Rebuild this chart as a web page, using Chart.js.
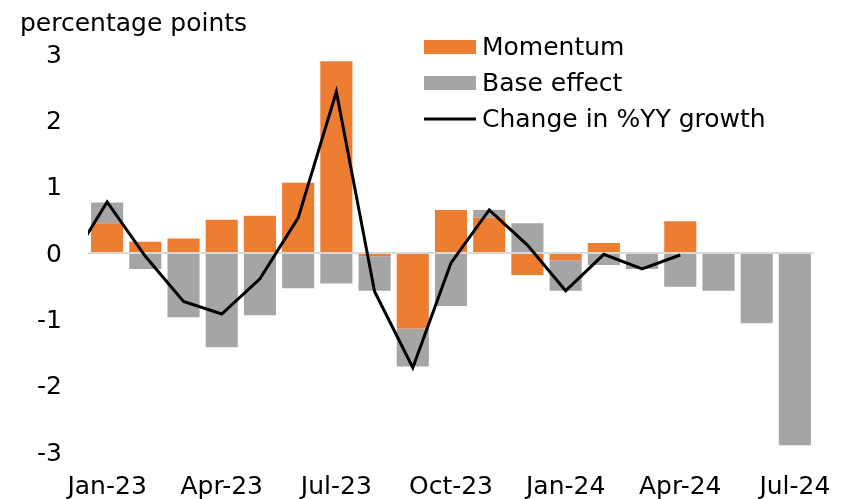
<!DOCTYPE html>
<html lang="en">
<head>
    <meta charset="UTF-8">
    <title>Momentum vs base effect</title>
    <script src="https://cdn.jsdelivr.net/npm/chart.js"></script>
    <style>
        body { margin: 0; background: #fff; }
        #wrap { width: 846px; height: 499px; }
    </style>
</head>
<body>
    <div id="wrap"><canvas id="chart"></canvas></div>
    <script>
        // months shown on the axis
        const months = ['Jan-23', 'Feb-23', 'Mar-23', 'Apr-23', 'May-23', 'Jun-23', 'Jul-23', 'Aug-23', 'Sep-23',
            'Oct-23', 'Nov-23', 'Dec-23', 'Jan-24', 'Feb-24', 'Mar-24', 'Apr-24', 'May-24', 'Jun-24', 'Jul-24'];
        const tickLabels = ['Jan-23', 'Apr-23', 'Jul-23', 'Oct-23', 'Jan-24', 'Apr-24', 'Jul-24'];

        const momentum = [0.45, 0.17, 0.22, 0.50, 0.56, 1.06, 2.89, -0.05, -1.14, 0.65, 0.53, -0.33, -0.11, 0.15, 0, 0.48, null, null, null];
        const baseEffect = [0.31, -0.24, -0.97, -1.42, -0.94, -0.53, -0.46, -0.52, -0.57, -0.80, 0.12, 0.45, -0.46, -0.18, -0.24, -0.51, -0.57, -1.06, -2.90];

        // line starts one month before the first bar (clipped at the plot edge)
        const lineMonths = ['Dec-22', 'Jan-23', 'Feb-23', 'Mar-23', 'Apr-23', 'May-23', 'Jun-23', 'Jul-23', 'Aug-23',
            'Sep-23', 'Oct-23', 'Nov-23', 'Dec-23', 'Jan-24', 'Feb-24', 'Mar-24', 'Apr-24'];
        const changeYY = [-0.17, 0.77, -0.05, -0.73, -0.92, -0.39, 0.53, 2.43, -0.58, -1.73, -0.15, 0.65, 0.12, -0.57, -0.02, -0.24, -0.03];

        const FONT = 'DejaVu Sans';
        const ORANGE = '#ED7D31';
        const GREY = '#A5A5A5';

        const monthIndex = m => m === 'Dec-22' ? -1 : months.indexOf(m);

        const textPlugin = {
            id: 'texts',
            afterDraw(chart) {
                const ctx = chart.ctx;
                ctx.save();
                ctx.font = '25px "' + FONT + '"';
                ctx.fillStyle = '#000';
                ctx.textBaseline = 'alphabetic';
                ctx.textAlign = 'left';
                ctx.fillText('percentage points', 20, 31);

                const items = [
                    { label: 'Momentum', color: ORANGE, type: 'box', y: 47 },
                    { label: 'Base effect', color: GREY, type: 'box', y: 83 },
                    { label: 'Change in %YY growth', color: '#000', type: 'line', y: 119 }
                ];
                items.forEach(it => {
                    if (it.type === 'box') {
                        ctx.fillStyle = it.color;
                        ctx.fillRect(424, it.y - 7, 52, 14);
                    } else {
                        ctx.strokeStyle = it.color;
                        ctx.lineWidth = 3;
                        ctx.beginPath();
                        ctx.moveTo(424, it.y);
                        ctx.lineTo(476, it.y);
                        ctx.stroke();
                    }
                    ctx.fillStyle = '#000';
                    ctx.textBaseline = 'middle';
                    ctx.fillText(it.label, 482, it.y + 1);
                });
                ctx.restore();
            }
        };

        new Chart(document.getElementById('chart'), {
            type: 'bar',
            data: {
                datasets: [
                    {
                        type: 'line',
                        label: 'Change in %YY growth',
                        data: lineMonths.map((m, i) => ({ x: monthIndex(m), y: changeYY[i] })),
                        borderColor: '#000',
                        borderWidth: 3,
                        pointRadius: 0,
                        tension: 0,
                        stack: 'line',
                        clip: 0
                    },
                    {
                        label: 'Momentum',
                        data: months.map((m, i) => ({ x: i, y: momentum[i] })),
                        backgroundColor: ORANGE,
                        stack: 'bars',
                        barPercentage: 0.84,
                        categoryPercentage: 1
                    },
                    {
                        label: 'Base effect',
                        data: months.map((m, i) => ({ x: i, y: baseEffect[i] })),
                        backgroundColor: GREY,
                        stack: 'bars',
                        barPercentage: 0.84,
                        categoryPercentage: 1
                    }
                ]
            },
            options: {
                responsive: true,
                maintainAspectRatio: false,
                animation: false,
                layout: { padding: { top: 54, right: 32, bottom: 0, left: 0 } },
                plugins: {
                    legend: { display: false },
                    tooltip: { enabled: false }
                },
                scales: {
                    x: {
                        type: 'linear',
                        offset: false,
                        min: -0.5,
                        max: 18.5,
                        grid: { display: false },
                        border: { display: false },
                        afterFit: s => { s.height = 47; },
                        afterBuildTicks: s => {
                            s.min = -0.5;
                            s.max = 18.5;
                            s.ticks = tickLabels.map(l => ({ value: months.indexOf(l) }));
                        },
                        ticks: {
                            autoSkip: false,
                            maxRotation: 0,
                            padding: 12,
                            color: '#000',
                            font: { family: FONT, size: 25 },
                            callback: v => months[v]
                        }
                    },
                    y: {
                        stacked: true,
                        min: -3,
                        max: 3,
                        afterFit: s => { s.width = 88; },
                        border: { display: false },
                        grid: {
                            drawTicks: false,
                            lineWidth: 2,
                            color: c => c.tick && c.tick.value === 0 ? '#D9D9D9' : 'rgba(0,0,0,0)'
                        },
                        ticks: {
                            stepSize: 1,
                            padding: 26,
                            labelOffset: 2,
                            color: '#000',
                            font: { family: FONT, size: 25 }
                        }
                    }
                }
            },
            plugins: [textPlugin]
        });
    </script>
</body>
</html>
